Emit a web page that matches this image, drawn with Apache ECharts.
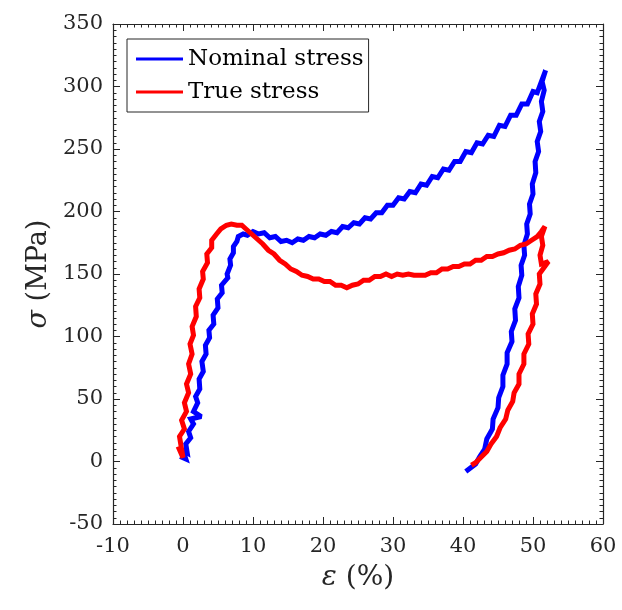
<!DOCTYPE html>
<html>
<head>
<meta charset="utf-8">
<script src="https://cdn.jsdelivr.net/npm/echarts@6/dist/echarts.min.js"></script>
<style>html,body{margin:0;padding:0;background:#fff}#c{width:622px;height:610px}</style>
</head>
<body>
<div id="c"></div>
<script>
// Data: [strain %, stress MPa]
const xTicks = [-10, 0, 10, 20, 30, 40, 50, 60];
const yTicks = [-50, 0, 50, 100, 150, 200, 250, 300, 350];
const seriesNames = ['Nominal stress', 'True stress'];

const nominalLoad = [[-0.4,4],[0.4,2],[0.0,9],[0.6,7],[0.4,14],[1.1,19],[0.8,24],[1.5,30],[1.1,34],[2.6,36],[1.5,40],[2.1,47],[1.8,52],[2.4,58],[2.3,66],[2.9,72],[2.7,80],[3.3,86],[3.2,93],[3.8,99],[3.7,105],[4.4,110],[4.3,117],[5.0,123],[4.9,130],[5.6,135],[5.5,141],[6.4,147],[6.3,150],[6.8,157],[6.7,162],[7.2,167],[7.2,172],[7.7,176],[7.9,180],[8.6,182],[9.2,181],[10,184],[10.8,182],[11.6,183],[12.4,179],[13.2,180],[14,176],[14.8,177],[15.6,175],[16.4,178],[17.2,177],[18,180],[18.8,179],[19.6,182],[20.4,181],[21.2,184],[22,183],[22.8,188],[23.6,187],[24.4,191],[25.2,190],[26,195],[26.8,194],[27.6,199],[28.4,199],[29.2,205],[30,205],[30.8,211],[31.6,210],[32.4,216],[33.2,215],[34,222],[34.8,221],[35.6,228],[36.4,227],[37.2,234],[38,233],[38.8,240],[39.6,240],[40.4,248],[41.2,247],[42,255],[42.8,254],[43.6,261],[44.4,260],[45.2,269],[46,268],[46.8,277],[47.6,277],[48.4,286],[49.2,286],[50,296],[50.6,295],[51.2,304],[51.0,301],[51.8,313]];
const nominalUnload = [[51.8,313],[51.3,304],[51.6,297],[51.2,288],[51.4,280],[50.9,272],[51.1,264],[50.6,256],[50.8,248],[50.3,240],[50.4,231],[49.9,222],[50.0,214],[49.5,206],[49.6,198],[49.1,190],[49.2,182],[48.7,173],[48.8,165],[48.3,157],[48.4,149],[47.9,140],[48.0,131],[47.4,122],[47.5,113],[46.9,104],[47.0,96],[46.3,87],[46.3,78],[45.7,69],[45.7,60],[45.1,51],[45.0,43],[44.3,34],[44.2,26],[43.4,18],[43.1,10],[42.4,4],[41.8,-2],[40.4,-8]];
const trueLoad = [[-0.7,12],[0.0,3],[-0.5,20],[0.2,26],[-0.2,33],[0.5,40],[0.2,47],[0.8,55],[0.5,62],[1.1,70],[0.8,78],[1.3,86],[1.0,94],[1.5,101],[1.3,108],[1.9,116],[1.8,124],[2.4,131],[2.3,138],[2.9,146],[2.8,152],[3.5,159],[3.4,166],[4.1,171],[4.1,177],[4.8,182],[5.4,186],[6.2,189],[6.9,190],[7.7,189],[8.4,189],[9.0,186],[9.8,182],[10.6,178],[11.4,174],[12.2,169],[13,166],[13.8,161],[14.6,158],[15.4,154],[16.2,152],[17,149],[17.8,148],[18.6,146],[19.4,146],[20.2,144],[21,144],[21.8,141],[22.6,141],[23.4,139],[24.2,141],[25,142],[25.8,145],[26.6,145],[27.4,148],[28.2,148],[29,150],[29.8,148],[30.6,150],[31.4,149],[32.2,150],[33,149],[33.8,149],[34.6,149],[35.4,151],[36.2,151],[37,154],[37.8,154],[38.6,156],[39.4,156],[40.2,158],[41,158],[41.8,161],[42.6,161],[43.4,164],[44.2,164],[45,166],[45.8,167],[46.6,169],[47.4,170],[48.2,173],[49,174],[49.8,177],[50.6,180],[51.2,184],[51.7,188]];
const trueUnload = [[51.7,188],[51.2,180],[51.4,173],[51.0,165],[51.2,158],[52.2,160],[50.9,150],[51.0,142],[50.4,134],[50.5,126],[49.9,118],[50.0,110],[49.3,102],[49.4,94],[48.7,86],[48.7,78],[48.0,70],[48.0,62],[47.3,55],[47.1,48],[46.4,41],[46.1,34],[45.3,27],[44.8,20],[44.0,14],[43.4,8],[42.5,3],[41.8,-1],[41.2,-3]];

const FONT = 'DejaVu Serif';
const AX = '#262626';
function axisBase(pos, show, min, max, interval) {
  return {
    type: 'value', position: pos, min: min, max: max, interval: interval,
    axisLine: { show: true, onZero: false, lineStyle: { color: AX, width: 1.2 } },
    axisTick: { show: true, inside: true, length: 7, lineStyle: { color: AX } },
    minorTick: { show: true, splitNumber: 10, length: 3.5, lineStyle: { color: AX } },
    splitLine: { show: false },
    axisLabel: { show: show, fontFamily: FONT, fontSize: 21, color: AX },
  };
}
const xb = axisBase('bottom', true, xTicks[0], xTicks[xTicks.length-1], xTicks[1]-xTicks[0]);
xb.axisLabel.margin = 12;
xb.name = '{i|ε} (%)';
xb.nameLocation = 'middle';
xb.nameGap = 40;
xb.nameTextStyle = { fontFamily: FONT, fontSize: 28, color: AX, rich: { i: { fontFamily: FONT, fontStyle: 'italic', fontSize: 28, color: AX } } };
const xt = axisBase('top', false, xTicks[0], xTicks[xTicks.length-1], xTicks[1]-xTicks[0]);
const yl = axisBase('left', true, yTicks[0], yTicks[yTicks.length-1], yTicks[1]-yTicks[0]);
yl.axisLabel.margin = 10;
yl.name = '{i|σ} (MPa)';
yl.nameLocation = 'middle';
yl.nameGap = 60;
yl.nameTextStyle = { fontFamily: FONT, fontSize: 27, color: AX, rich: { i: { fontFamily: FONT, fontStyle: 'italic', fontSize: 27, color: AX } } };
const yr = axisBase('right', false, yTicks[0], yTicks[yTicks.length-1], yTicks[1]-yTicks[0]);

const chart = echarts.init(document.getElementById('c'), null, { renderer: 'canvas' });
chart.setOption({
  animation: false,
  backgroundColor: '#fff',
  grid: { left: 113, top: 24, right: 19, bottom: 86, containLabel: false },
  legend: {
    orient: 'vertical', left: 127, top: 39,
    padding: [8, 5, 8, 9], itemGap: 9,
    itemWidth: 47, itemHeight: 3, icon: 'rect',
    borderColor: AX, borderWidth: 1, backgroundColor: '#fff',
    textStyle: { fontFamily: FONT, fontSize: 23, color: '#000', lineHeight: 24 },
    data: seriesNames
  },
  xAxis: [xb, xt],
  yAxis: [yl, yr],
  series: [
    { name: seriesNames[0], type: 'line', xAxisIndex: 0, yAxisIndex: 0, showSymbol: false, symbol: 'none',
      lineStyle: { color: '#0000ff', width: 5, join: 'miter', miterLimit: 2.5 }, itemStyle: { color: '#0000ff' },
      data: nominalLoad.concat(nominalUnload) },
    { name: seriesNames[1], type: 'line', xAxisIndex: 0, yAxisIndex: 0, showSymbol: false, symbol: 'none',
      lineStyle: { color: '#ff0000', width: 5, join: 'miter', miterLimit: 2.5 }, itemStyle: { color: '#ff0000' },
      data: trueLoad.concat(trueUnload) }
  ]
});
</script>
</body>
</html>
